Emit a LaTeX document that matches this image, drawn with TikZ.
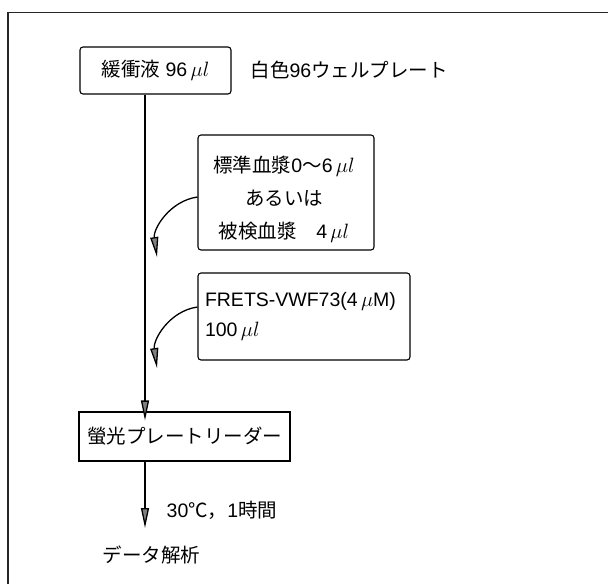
\documentclass[tikz,border=0pt]{standalone}
\usepackage{fontspec}
\setmainfont{Liberation Sans}
\newfontfamily\jp{Noto Sans CJK JP}
\usetikzlibrary{arrows.meta}
\begin{document}
\begin{tikzpicture}[x=1pt,y=-1pt,
  font=\fontsize{19.5}{24}\selectfont,
  box/.style={draw, line width=1.1pt, inner sep=0pt},
  rbox/.style={box, rounded corners=3pt},
  arr/.style={line width=1.3pt, -{Triangle[length=20pt,width=8pt,fill=black!50]}},
  frame/.style={line width=1.2pt, draw=black!85}]
\useasboundingbox (0,0) rectangle (608,584);
% partial outer frame
\draw[frame] (8,584) -- (8,12.5) -- (608,12.5);
% boxes
\node[rbox, minimum width=151pt, minimum height=47pt] (b1) at (155.5,70.5)
  {{\jp 緩衝液} 96\,$\mu l$};
\node[anchor=west] (plate) at (247,70) {{\jp 白色}96{\jp ウェルプレート}};
\node[rbox, minimum width=176pt, minimum height=115pt] (b2) at (286,192.5) {};
\node[align=center, font=\fontsize{19.5}{33}\selectfont] (b2t) at (284,199)
  {{\jp 標準血漿}0{\jp 〜}6\,$\mu l$\\{\jp あるいは}\\{\jp 被検血漿　}4\,$\mu l$};
\node[rbox, text width=198pt, inner xsep=7pt, minimum height=87pt, align=left,
  font=\fontsize{19.5}{30}\selectfont] (b3) at (304,316.5)
  {FRETS-VWF73(4\,$\mu$M)\\100\,$\mu l$};
\node[box, minimum width=211pt, minimum height=49pt] (b4) at (184.5,436.5)
  {{\jp 螢光プレートリーダー}};
\node (t) at (222,510) {30{\jp ℃，}1{\jp 時間}};
\node (d) at (151.5,555) {{\jp データ解析}};
% connectors
\coordinate (m) at (145,0);
\coordinate (t1) at (157,257);
\coordinate (t2) at (157,368);
\coordinate (t3) at (145,528);
\draw[arr] (b1.south -| m) -- ([yshift=-9pt]b4.north -| m);
\draw[arr] (b2.west |- 0,197) to[out=188,in=98] (t1);
\draw[arr] (b3.west |- 0,307) to[out=188,in=98] (t2);
\draw[arr] (b4.south -| m) -- (t3);
\end{tikzpicture}
\end{document}
